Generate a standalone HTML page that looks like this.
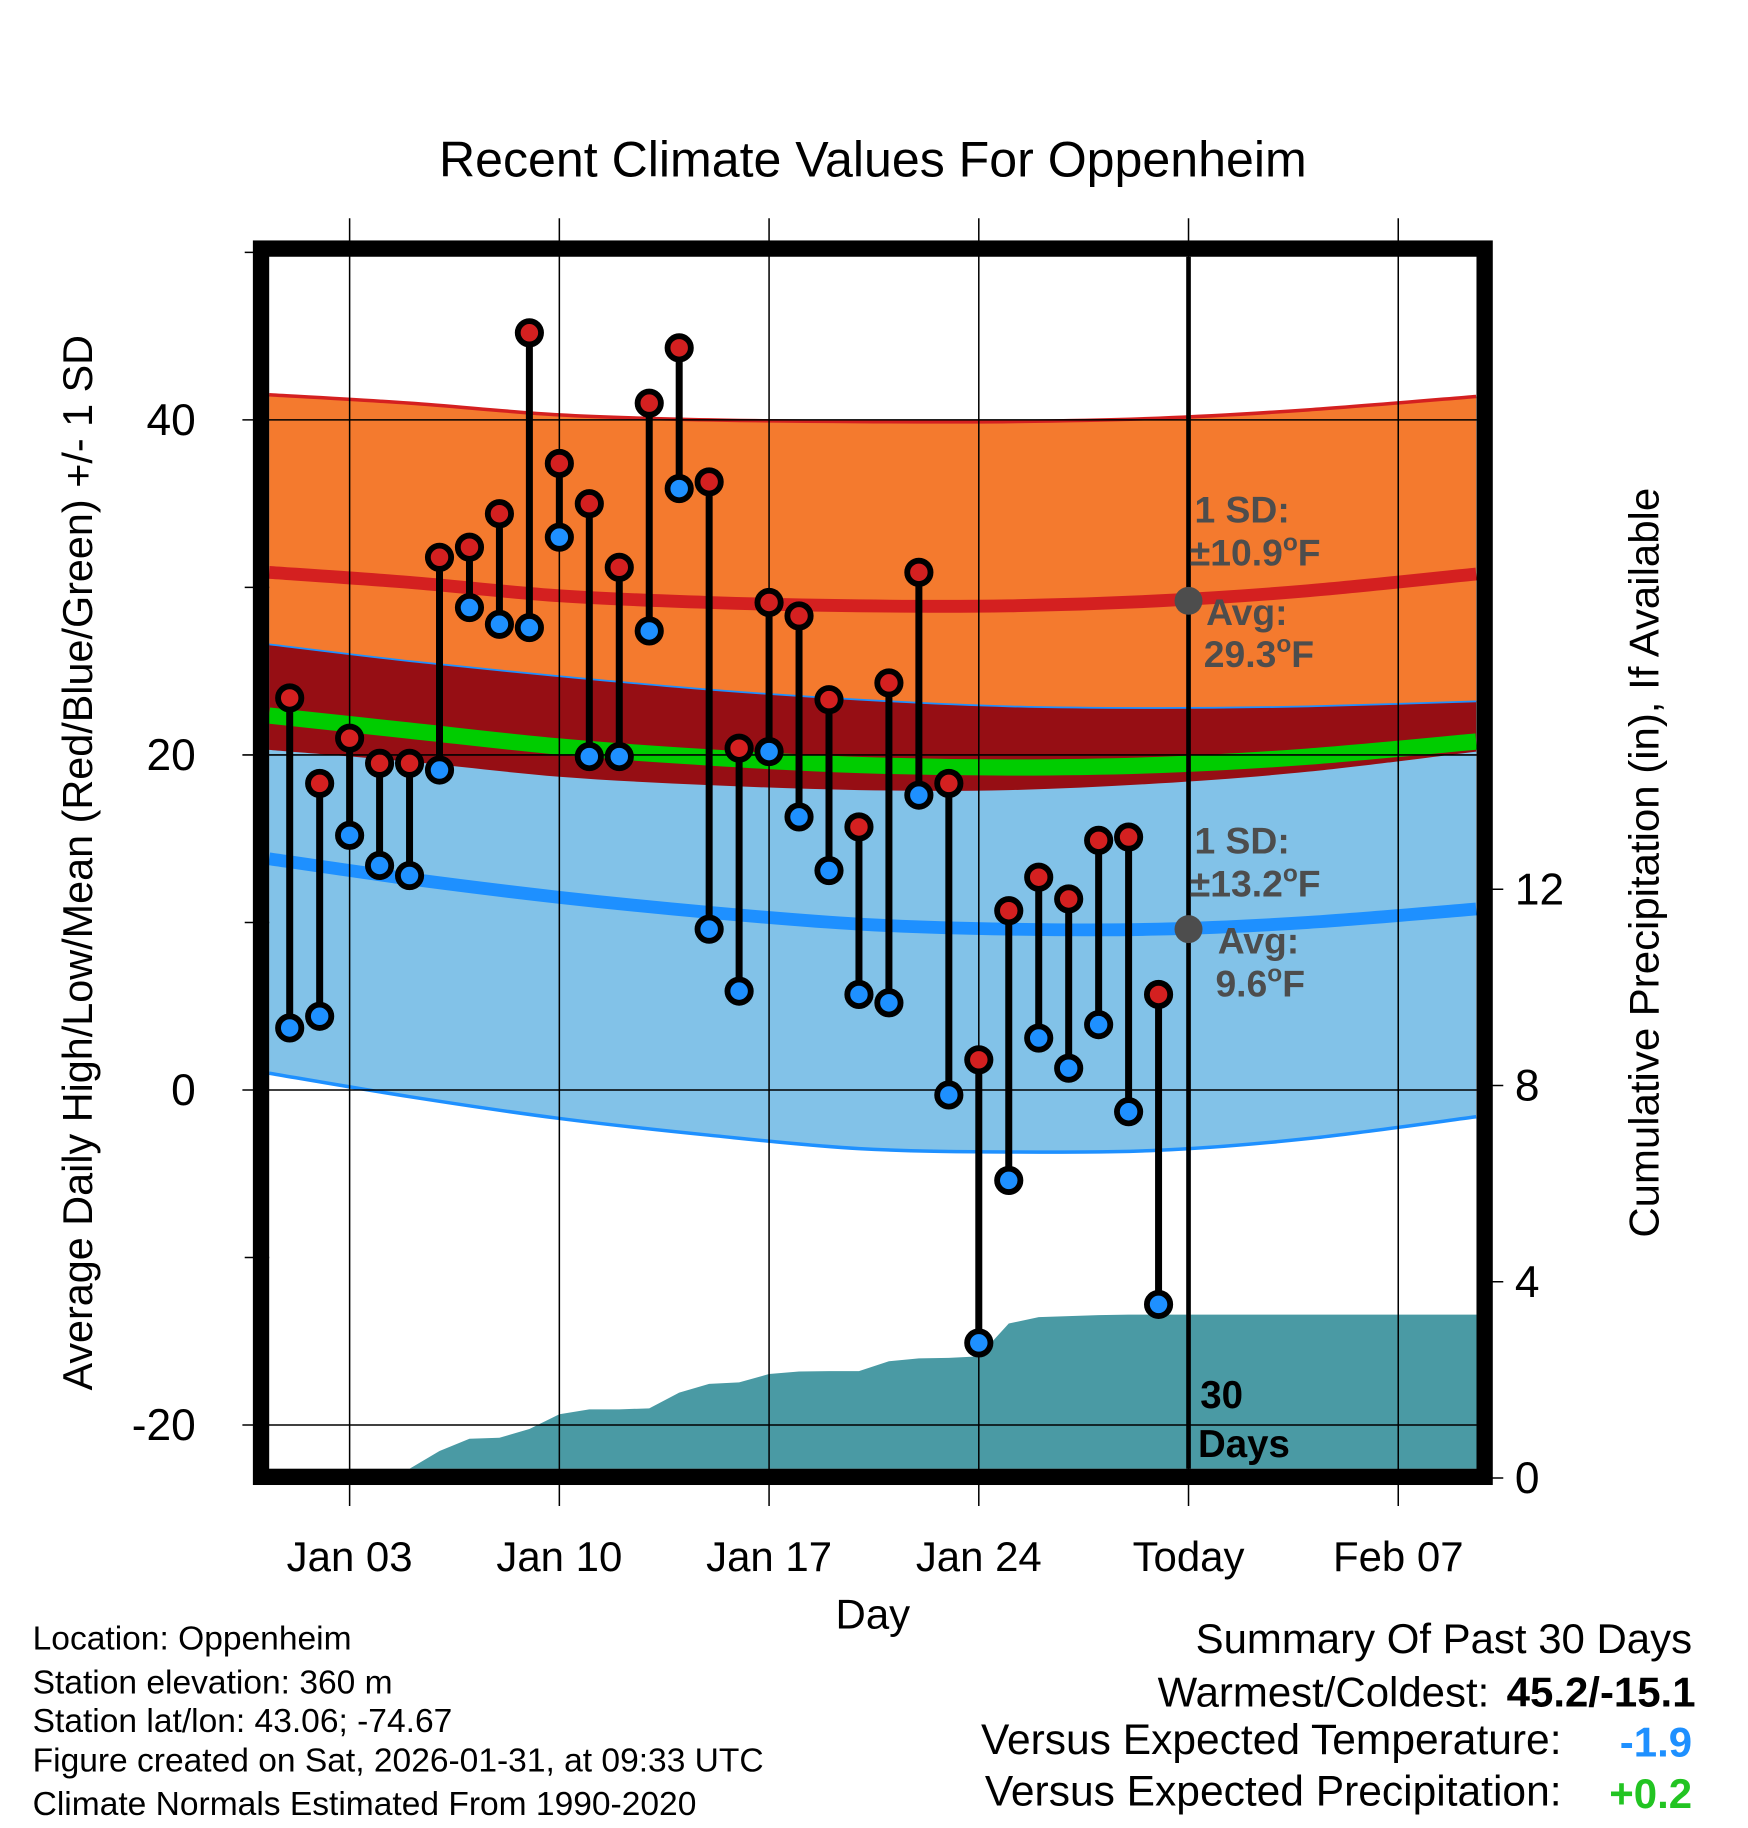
<!DOCTYPE html>
<html><head><meta charset="utf-8"><style>
html,body{margin:0;padding:0;background:#fff}
svg{display:block;font-family:"Liberation Sans",Arial,sans-serif}
</style></head><body>
<svg id="chart" width="1748" height="1828" viewBox="0 0 1500 1568" xmlns="http://www.w3.org/2000/svg">
<rect width="1500" height="1568" fill="#fff"/>
<g id="bands"></g>
<g id="grid"></g>
<g id="marks"></g>
<g id="frame"></g>
<g id="labels"></g>
</svg>
<script>
const days = [1,2,3,4,5,6,7,8,9,10,11,12,13,14,15,16,17,18,19,20,21,22,23,24,25,26,27,28,29,30];
const highs = [23.4,18.3,21.0,19.5,19.5,31.8,32.4,34.4,45.2,37.4,35.0,31.2,41.0,44.3,36.3,20.4,29.1,28.3,23.3,15.7,24.3,30.9,18.3,1.8,10.7,12.7,11.4,14.9,15.1,5.7];
const lows = [3.7,4.4,15.2,13.4,12.8,19.1,28.8,27.8,27.6,33.0,19.9,19.9,27.4,35.9,9.6,5.9,20.2,16.3,13.1,5.7,5.2,17.6,-0.3,-15.1,-5.4,3.1,1.3,3.9,-1.3,-12.8];
const precip = [0,0,0,0,0,0.55,0.8,0.82,1.0,1.3,1.4,1.4,1.42,1.74,1.92,1.95,2.12,2.17,2.18,2.18,2.38,2.44,2.45,2.48,3.15,3.28,3.3,3.32,3.33,3.33];
const normDays = [0.3,5,10,15,20,25,30,35,40.6];
const avgHigh = [30.9,30.3,29.5,29.1,28.9,28.9,29.2,29.8,30.8];
const sdHigh = [10.6,10.7,10.8,10.9,11.0,11.0,10.9,10.8,10.6];
const avgLow = [13.8,12.6,11.5,10.6,9.9,9.6,9.6,10.0,10.8];
const sdLow = [12.8,13.0,13.2,13.3,13.4,13.3,13.2,12.9,12.4];
const xTickDays = [3,10,17,24,31,38];
const xTickLabels = ["Jan 03","Jan 10","Jan 17","Jan 24","Today","Feb 07"];
const yTicks = [40,20,0,-20];
const yMinor = [50,30,10,-10];
const pTicks = [12,8,4,0];

const NS="http://www.w3.org/2000/svg";
const L=231,R=1267,T=220,B=1260;
const x=d=>248.6+(d-1)*25.71;
const y=v=>935-14.375*v;
const yp=p=>1268-42.1*p;
function el(tag,attrs,parent){const e=document.createElementNS(NS,tag);for(const k in attrs)e.setAttribute(k,attrs[k]);parent.appendChild(e);return e;}
const bands=document.getElementById('bands'),grid=document.getElementById('grid'),marks=document.getElementById('marks'),frame=document.getElementById('frame'),labels=document.getElementById('labels');

function curvePts(fn){return normDays.map((d,i)=>[Math.max(L,Math.min(R,x(d))),y(fn(i))]);}
function smooth(pts){let s='';for(let i=0;i<pts.length-1;i++){const p0=pts[Math.max(0,i-1)],p1=pts[i],p2=pts[i+1],p3=pts[Math.min(pts.length-1,i+2)];
const c1=[p1[0]+(p2[0]-p0[0])/6,p1[1]+(p2[1]-p0[1])/6],c2=[p2[0]-(p3[0]-p1[0])/6,p2[1]-(p3[1]-p1[1])/6];
s+=' C'+c1.join(',')+' '+c2.join(',')+' '+p2.join(',');}return s;}
function bandPath(up,lo){const a=curvePts(up),b=curvePts(lo).reverse();return 'M'+a[0].join(',')+smooth(a)+' L'+b[0].join(',')+smooth(b)+'Z';}
function linePath(fn){const a=curvePts(fn);return 'M'+a[0].join(',')+smooth(a);}

let e;
e=el('path',{d:bandPath(i=>avgHigh[i]+sdHigh[i],i=>avgHigh[i]-sdHigh[i]),fill:'#f47a2e'},bands);

e=el('path',{d:bandPath(i=>avgLow[i]+sdLow[i],i=>avgLow[i]-sdLow[i]),fill:'#82c2e8'},bands);

e=el('path',{d:bandPath(i=>avgLow[i]+sdLow[i],i=>avgHigh[i]-sdHigh[i]),fill:'#960e14'},bands);

e=el('path',{d:linePath(i=>avgHigh[i]+sdHigh[i]),fill:'none',stroke:'#d42020',"stroke-width":3},bands);

e=el('path',{d:linePath(i=>avgLow[i]+sdLow[i]),fill:'none',stroke:'#1e90ff',"stroke-width":1.5},bands);

e=el('path',{d:linePath(i=>avgLow[i]-sdLow[i]),fill:'none',stroke:'#1e90ff',"stroke-width":3},bands);

e=el('path',{d:linePath(i=>avgHigh[i]),fill:'none',stroke:'#d42020',"stroke-width":11},bands);

e=el('path',{d:linePath(i=>avgLow[i]),fill:'none',stroke:'#1e90ff',"stroke-width":11},bands);

e=el('path',{d:linePath(i=>(avgHigh[i]+avgLow[i])/2),fill:'none',stroke:'#00cc00',"stroke-width":14},bands);


let pd='M'+L+','+B;
pd+=' L'+x(days[0])+','+Math.min(B,yp(precip[0]));
days.forEach((d,i)=>{pd+=' L'+x(d)+','+Math.min(B,yp(precip[i]));});
pd+=' L'+R+','+Math.min(B,yp(precip[precip.length-1]))+' L'+R+','+B+'Z';
e=el('path',{d:pd,fill:'#4a9aa4'},bands);


yTicks.forEach(v=>{e=el('line',{x1:208,x2:R,y1:y(v),y2:y(v),stroke:'#000','stroke-width':1.3},grid);

e=el('text',{x:168,y:y(v)+13,'text-anchor':'end','font-size':38},labels);e.textContent=v;
});
yMinor.forEach(v=>{e=el('line',{x1:210,x2:L,y1:y(v),y2:y(v),stroke:'#000','stroke-width':1.3},grid);
});
pTicks.forEach(p=>{e=el('line',{x1:1275,x2:1290,y1:yp(p),y2:yp(p),stroke:'#000','stroke-width':1.3},grid);

e=el('text',{x:1300,y:yp(p)+13,'font-size':38},labels);e.textContent=p;
});
xTickDays.forEach((d,i)=>{e=el('line',{x1:x(d),x2:x(d),y1:187,y2:1292,stroke:'#000','stroke-width':1.3},grid);

if(d===31){e=el('line',{x1:x(d),x2:x(d),y1:T,y2:B,stroke:'#000','stroke-width':4},grid);
}
e=el('text',{x:x(d),y:1348,'text-anchor':'middle','font-size':36},labels);e.textContent=xTickLabels[i];
});

days.forEach((d,i)=>{e=el('line',{x1:x(d),x2:x(d),y1:y(highs[i]),y2:y(lows[i]),stroke:'#000','stroke-width':6},marks);
});
days.forEach((d,i)=>{
e=el('circle',{cx:x(d),cy:y(highs[i]),r:10,fill:'#d42020',stroke:'#000','stroke-width':5},marks);

e=el('circle',{cx:x(d),cy:y(lows[i]),r:10,fill:'#1e90ff',stroke:'#000','stroke-width':5},marks);
});

const tx=x(31);
e=el('circle',{cx:tx,cy:y(avgHigh[6]),r:12,fill:'#4d4d4d'},marks);

e=el('circle',{cx:tx,cy:y(avgLow[6]),r:12,fill:'#4d4d4d'},marks);


e=el('rect',{x:L-7,y:T-7,width:R-L+14,height:B-T+14,fill:'none',stroke:'#000','stroke-width':14},frame);


function txt(s,x0,y0,attrs,name){const t=el('text',Object.assign({x:x0,y:y0},attrs),labels);t.innerHTML=s;
return t;}
const ann={'font-size':32,'font-weight':'bold',fill:'#4d4d4d'};
const deg='<tspan font-size="21" dy="-13">o</tspan><tspan dy="13">F</tspan>';
txt('1 SD:',1025,448,ann,'high-sd-label');
txt('±10.9'+deg,1021,485,ann,'high-sd-value');
txt('Avg:',1035,536,ann,'high-avg-label');
txt('29.3'+deg,1033,572,ann,'high-avg-value');
txt('1 SD:',1025,732,ann,'low-sd-label');
txt('±13.2'+deg,1021,769,ann,'low-sd-value');
txt('Avg:',1045,818,ann,'low-avg-label');
txt('9.6'+deg,1043,855,ann,'low-avg-value');
txt('30',1030,1208,{'font-size':33,'font-weight':'bold'},'days-count');
txt('Days',1028,1250,{'font-size':33,'font-weight':'bold'},'days-label');

txt('Recent Climate Values For Oppenheim',749,151,{'text-anchor':'middle','font-size':43},'chart-title');
txt('Day',749,1397,{'text-anchor':'middle','font-size':36},'x-axis-title');
txt('Average Daily High/Low/Mean (Red/Blue/Green) +/- 1 SD',0,0,{'text-anchor':'middle','font-size':35.5,transform:'translate(79,740) rotate(-90)'},'y-axis-title');
txt('Cumulative Precipitation (in), If Available',0,0,{'text-anchor':'middle','font-size':36,transform:'translate(1423,740) rotate(-90)'},'precip-axis-title');

const info=['Location: Oppenheim','Station elevation: 360 m','Station lat/lon: 43.06; -74.67','Figure created on Sat, 2026-01-31, at 09:33 UTC','Climate Normals Estimated From 1990-2020'];
const infoY=[1415,1453,1486,1520,1557];
info.forEach((s,i)=>txt(s,28,infoY[i],{'font-size':28.8},'info-line'));

txt('Summary Of Past 30 Days',1452,1418,{'text-anchor':'end','font-size':36},'summary-title');
txt('Warmest/Coldest:',1278,1464,{'text-anchor':'end','font-size':36},'warmest-coldest-label');
txt('45.2/-15.1',1455,1464,{'text-anchor':'end','font-size':36,'font-weight':'bold'},'warmest-coldest-value');
txt('Versus Expected Temperature:',1340,1505,{'text-anchor':'end','font-size':36.5},'temp-anomaly-label');
txt('-1.9',1452,1507,{'text-anchor':'end','font-size':36,'font-weight':'bold',fill:'#1e90ff'},'temp-anomaly-value');
txt('Versus Expected Precipitation:',1340,1549,{'text-anchor':'end','font-size':36.5},'precip-anomaly-label');
txt('+0.2',1452,1551,{'text-anchor':'end','font-size':36,'font-weight':'bold',fill:'#22c422'},'precip-anomaly-value');
</script>
</body></html>
